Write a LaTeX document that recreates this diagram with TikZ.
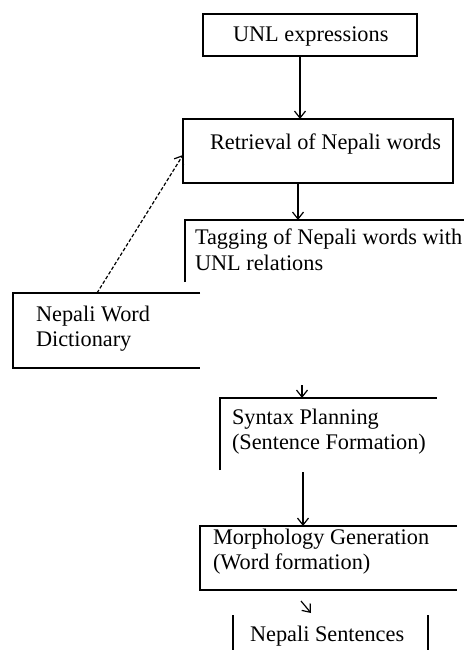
\documentclass[tikz,border=0pt]{standalone}
\usepackage{fontspec}
\setmainfont{Liberation Serif}
\usetikzlibrary{arrows.meta}
\begin{document}
\begin{tikzpicture}[x=1pt,y=-1pt,
  frame/.style={inner sep=0pt, outer sep=0pt, anchor=north west},
  lbl/.style={inner sep=0pt, outer sep=0pt, anchor=north west, align=left,
              font=\fontsize{22.3}{25.5}\selectfont},
  edge/.style={line width=1.2pt},
  arr/.style={line width=1.2pt, -{Straight Barb[length=7pt,width=11pt]}},
  dasharr/.style={arr, dash pattern=on 3.5pt off 2pt}]
\useasboundingbox[fill=white] (0,0) rectangle (464,650);

% box frames
\node[frame, draw, line width=1.2pt, minimum width=214pt, minimum height=42pt] (unl) at (203,14) {};
\node[frame, draw, line width=1.2pt, minimum width=270pt, minimum height=64pt] (ret) at (183,119) {};
\node[frame, minimum width=279pt, minimum height=62pt] (tag) at (185,220) {};
\node[frame, minimum width=187pt, minimum height=75pt] (dict) at (13,293) {};
\node[frame, minimum width=217pt, minimum height=72pt] (syn) at (220,398) {};
\node[frame, minimum width=257pt, minimum height=64pt] (mor) at (200,526) {};
\node[frame, minimum width=195pt, minimum height=35pt] (sen) at (233,615) {};

% visible parts of the open boxes
\draw[edge] (tag.south west) -- (tag.north west) -- (tag.north east);
\draw[edge] (dict.north east) -- (dict.north west) -- (dict.south west) -- (dict.south east);
\draw[edge] (syn.south west) -- (syn.north west) -- (syn.north east);
\draw[edge] (mor.north east) -- (mor.north west) -- (mor.south west) -- (mor.south east);
\draw[edge] (sen.north west) -- (sen.south west);
\draw[edge] (sen.north east) -- (sen.south east);

% texts
\node[lbl] (unlt) at (233,27) {UNL expressions};
\node[lbl] (rett) at (210,134) {Retrieval of Nepali words};
\node[lbl] (tagt) at (195,229) {Tagging of Nepali words with\\UNL relations};
\node[lbl] (dictt) at (36,306) {Nepali Word\\Dictionary};
\node[lbl] (synt) at (232,409) {Syntax Planning\\(Sentence Formation)};
\node[lbl] (mort) at (213,529) {Morphology Generation\\(Word formation)};
\node[lbl] (sent) at (250,626) {Nepali Sentences};

% connectors
\draw[arr] ([xshift=-10pt]unl.south) -- ([xshift=-18pt]ret.north);
\draw[arr] ([xshift=-20pt]ret.south) -- ([xshift=-26.5pt]tag.north);
\draw[arr] ([xshift=-26.5pt,yshift=13pt]syn.north) -- ([xshift=-26.5pt]syn.north);
\draw[arr] ([xshift=-25.5pt,yshift=-2pt]syn.south) -- ([xshift=-25.5pt]mor.north);
\draw[arr] ([xshift=-29.5pt,yshift=14pt]sen.north) -- ([xshift=-19.5pt,yshift=2pt]sen.north);
\draw[dasharr] ([xshift=-9.5pt]dict.north) -- ([yshift=-4pt]ret.west);
\end{tikzpicture}
\end{document}
